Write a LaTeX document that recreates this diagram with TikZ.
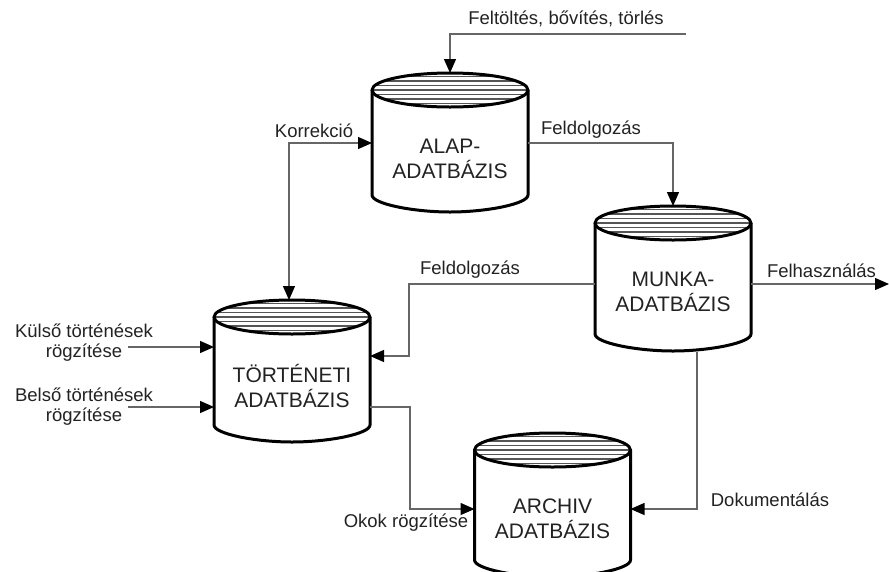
\documentclass[tikz,border=0pt]{standalone}
\usepackage{fontspec}
\setmainfont{Liberation Sans}
\usetikzlibrary{arrows.meta}

\definecolor{inkgray}{HTML}{666666}
\definecolor{hatchgray}{HTML}{555555}
\definecolor{textcol}{HTML}{222222}

\tikzset{
  conn/.style={draw=inkgray, line width=1.3pt},
  tip/.tip={Triangle[length=14pt, width=12pt, color=black]},
  cyl/.style={draw=black, line width=3pt, line join=round},
  hatch/.style={draw=hatchgray, line width=1.2pt},
  dbtext/.style={align=center, text=textcol, font=\fontsize{21}{24.5}\selectfont},
  lbl/.style={align=center, text=textcol, font=\fontsize{18.5}{20}\selectfont, inner sep=0pt},
}

% database cylinder: name, centre x, centre y of the top ellipse,
% length of the straight sides, caption
\newcommand\database[5]{%
  \node[minimum width=156pt, minimum height=#4+34, inner sep=0pt, outer sep=0pt]
    (#1) at (#2,#3+#4/2) {};
  \begin{scope}
    \clip (#2,#3) ellipse [x radius=78, y radius=17];
    \foreach \d in {-13.5,-9,...,13.5}
      \draw[hatch] (#2-80,#3+\d) -- (#2+80,#3+\d);
  \end{scope}
  \draw[cyl] (#2-78,#3) -- (#2-78,#3+#4)
     .. controls (#2-78,#3+#4+9) and (#2-36,#3+#4+17) .. (#2,#3+#4+17)
     .. controls (#2+36,#3+#4+17) and (#2+78,#3+#4+9) .. (#2+78,#3+#4)
     -- (#2+78,#3);
  \draw[cyl] (#2,#3) ellipse [x radius=78, y radius=17];
  \node[dbtext] (#1-caption) at (#2,#3+69) {#5};
}

\begin{document}
\begin{tikzpicture}[x=1pt, y=-1pt]
\useasboundingbox (0,0) rectangle (889,571);

\database{alap}{450}{90}{105}{ALAP-\\ADATBÁZIS}
\database{munka}{673}{223}{111}{MUNKA-\\ADATBÁZIS}
\database{tort}{292}{317}{108}{TÖRTÉNETI\\ADATBÁZIS}
\database{arch}{552.5}{450}{110}{ARCHIV\\ADATBÁZIS}

% corner points of the connectors
\coordinate (fill) at (686,34);
\coordinate (korr) at (289,143);
\coordinate (fel2) at (409,284);
\coordinate (fel2b) at (409,356);
\coordinate (use) at (889,284);
\coordinate (kin) at (128,347);
\coordinate (bin) at (128,407);
\coordinate (ok) at (410,407);
\coordinate (okb) at (410,509);
\coordinate (dok) at (697,509);

% connectors
\draw[conn, -tip] (fill) -- (fill -| alap.north) -- (alap.north);
\draw[conn, tip-tip] (tort.north -| korr) -- (korr) -- (alap.west |- korr);
\draw[conn, -tip] (alap.east |- korr) -- (munka.north |- korr) -- (munka.north);
\draw[conn, -tip] (munka.west |- fel2) -- (fel2) -- (fel2b) -- (tort.east |- fel2b);
\draw[conn, -tip] (munka.east |- use) -- (use);
\draw[conn, -tip] (kin) -- (tort.west |- kin);
\draw[conn, -tip] (bin) -- (tort.west |- bin);
\draw[conn, -tip] (tort.east |- ok) -- (ok) -- (okb) -- (arch.west |- okb);
\draw[conn, -tip] ([yshift=-1pt]dok |- munka.south) -- (dok) -- (arch.east |- dok);

% labels
\node[lbl] (l-fill) at (566,19) {Feltöltés, bővítés, törlés};
\node[lbl] (l-korr) at (314,131) {Korrekció};
\node[lbl] (l-fel1) at (591,130) {Feldolgozás};
\node[lbl] (l-fel2) at (470,270) {Feldolgozás};
\node[lbl] (l-use) at (821.5,271) {Felhasználás};
\node[lbl] (l-kin) at (84,343) {Külső történések\\rögzítése};
\node[lbl] (l-bin) at (84,407) {Belső történések\\rögzítése};
\node[lbl] (l-ok) at (406,523) {Okok rögzítése};
\node[lbl] (l-dok) at (770,500) {Dokumentálás};
\end{tikzpicture}
\end{document}
